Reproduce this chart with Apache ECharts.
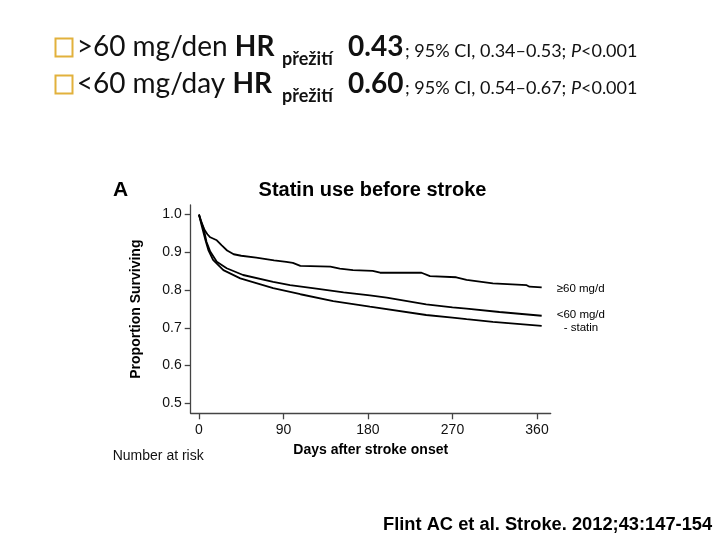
<!DOCTYPE html>
<html><head><meta charset="utf-8">
<script src="https://cdn.jsdelivr.net/npm/echarts@6/dist/echarts.min.js"></script>
<style>html,body{margin:0;padding:0;background:#fff}#c{width:720px;height:540px}</style>
</head><body><div id="c"></div>
<script>
// Kaplan-Meier curves (days after stroke onset, proportion surviving)
const daysHigh = [0,3,6,9,12,19,24,30,37,45,61,80,93,100,108,140,150,164,185,193,237,246,274,285,313,349,352,365];
const survHigh = [1.0,0.975,0.959,0.948,0.940,0.932,0.919,0.905,0.895,0.891,0.886,0.879,0.875,0.872,0.864,0.862,0.857,0.853,0.851,0.846,0.846,0.837,0.834,0.827,0.818,0.813,0.809,0.807];
const daysLow = [0,2,4.6,8,12,19,29.5,47,79,97,125,154,182,200,242,270,285,320,365];
const survLow = [1.0,0.985,0.968,0.928,0.902,0.875,0.858,0.840,0.822,0.813,0.804,0.794,0.786,0.780,0.762,0.754,0.751,0.742,0.732];
const daysNone = [0,3,6.4,10,15,26,44,79,108,143,182,242,270,285,313,365];
const survNone = [1.0,0.97,0.937,0.906,0.880,0.853,0.831,0.805,0.789,0.771,0.756,0.734,0.727,0.723,0.716,0.705];
const xTicks = [0,90,180,270,360];
const yTicks = [0.5,0.6,0.7,0.8,0.9,1.0];
const seriesNames = ['≥60 mg/d','<60 mg/d','- statin'];

const pairs = (d, v) => d.map((x, i) => [x, v[i]]);
const AR = '"Liberation Sans", Arial, sans-serif';
const HF = 'Lato, "Open Sans", sans-serif';

const chart = echarts.init(document.getElementById('c'), null, {renderer:'canvas'});
const lineStyle = {color:'#000', width:1.8};
chart.setOption({
  animation:false,
  backgroundColor:'#fff',
  grid:{left:190.7, right:169.3, top:205, bottom:126.7},
  xAxis:{
    type:'value', min:-8.8, max:374.6,
    name:'Days after stroke onset', nameLocation:'middle', nameGap:29.5,
    nameTextStyle:{fontFamily:AR, fontWeight:'bold', fontSize:14, color:'#000'},
    axisLine:{onZero:false, lineStyle:{color:'#444', width:1.3}},
    axisTick:{show:true, inside:false, length:6, customValues:xTicks, lineStyle:{color:'#444', width:1.3}},
    axisLabel:{customValues:xTicks, margin:9.5, fontFamily:AR, fontSize:14, color:'#111'},
    splitLine:{show:false}
  },
  yAxis:{
    type:'value', min:0.4735, max:1.0255,
    name:'Proportion Surviving', nameLocation:'middle', nameGap:48, nameRotate:90,
    nameTextStyle:{fontFamily:AR, fontWeight:'bold', fontSize:14, color:'#000'},
    axisLine:{show:true, onZero:false, lineStyle:{color:'#444', width:1.3}},
    axisTick:{show:true, inside:false, length:6, customValues:yTicks, lineStyle:{color:'#444', width:1.3}},
    axisLabel:{customValues:yTicks, margin:9, fontFamily:AR, fontSize:14, color:'#111',
      formatter:v=>v.toFixed(1)},
    splitLine:{show:false}
  },
  series:[
    {name:seriesNames[0], type:'line', data:pairs(daysHigh, survHigh), showSymbol:false, lineStyle,
      endLabel:{show:true, formatter:seriesNames[0], distance:15, offset:[0,1], fontFamily:AR, fontSize:11.5, color:'#000'}},
    {name:seriesNames[1], type:'line', data:pairs(daysLow, survLow), showSymbol:false, lineStyle,
      endLabel:{show:true, formatter:seriesNames[1], distance:15, offset:[0,-1], fontFamily:AR, fontSize:11.5, color:'#000'}},
    {name:seriesNames[2], type:'line', data:pairs(daysNone, survNone), showSymbol:false, lineStyle,
      endLabel:{show:true, formatter:seriesNames[2], distance:22, offset:[0,2], fontFamily:AR, fontSize:11.5, color:'#000'}}
  ],
  graphic:[
    // header bullets
    {type:'rect', shape:{x:55.5, y:38.5, width:17, height:18}, style:{fill:'none', stroke:'#E2B13C', lineWidth:2}},
    {type:'rect', shape:{x:55.5, y:75.5, width:17, height:18}, style:{fill:'none', stroke:'#E2B13C', lineWidth:2}},
    // line 1
    {type:'text', x:76.7, y:47, style:{text:'>60 mg/den {b|HR}', font:'28px '+HF, fill:'#111', verticalAlign:'middle',
      rich:{b:{fontFamily:HF, fontSize:28, fontWeight:'bold', fill:'#111'}}}},
    {type:'text', x:282, y:59, style:{text:'přežití', font:'bold 18px '+HF, fill:'#111', verticalAlign:'middle'}},
    {type:'text', x:348, y:47, style:{text:'0.43', font:'bold 28px '+HF, fill:'#111', verticalAlign:'middle'}},
    {type:'text', x:405, y:51, style:{text:'; 95% CI, 0.34–0.53; {i|P}<0.001', font:'18px '+HF, fill:'#111', verticalAlign:'middle',
      rich:{i:{fontFamily:HF, fontSize:18, fontStyle:'italic', fill:'#111'}}}},
    // line 2
    {type:'text', x:76.7, y:84, style:{text:'<60 mg/day {b|HR}', font:'28px '+HF, fill:'#111', verticalAlign:'middle',
      rich:{b:{fontFamily:HF, fontSize:28, fontWeight:'bold', fill:'#111'}}}},
    {type:'text', x:282, y:96, style:{text:'přežití', font:'bold 18px '+HF, fill:'#111', verticalAlign:'middle'}},
    {type:'text', x:348, y:84, style:{text:'0.60', font:'bold 28px '+HF, fill:'#111', verticalAlign:'middle'}},
    {type:'text', x:405, y:88, style:{text:'; 95% CI, 0.54–0.67; {i|P}<0.001', font:'18px '+HF, fill:'#111', verticalAlign:'middle',
      rich:{i:{fontFamily:HF, fontSize:18, fontStyle:'italic', fill:'#111'}}}},
    // panel letter and title
    {type:'text', x:113, y:190, style:{text:'A', font:'bold 21px '+AR, fill:'#000', verticalAlign:'middle'}},
    {type:'text', x:372.5, y:190, style:{text:'Statin use before stroke', font:'bold 20px '+AR, fill:'#000', align:'center', verticalAlign:'middle'}},
    {type:'text', x:112.7, y:456, style:{text:'Number at risk', font:'14px '+AR, fill:'#111', verticalAlign:'middle'}},
    {type:'text', x:383, y:525, style:{text:'Flint AC et al. Stroke. 2012;43:147-154', font:'bold 18.3px '+AR, fill:'#000', verticalAlign:'middle'}}
  ]
});
</script></body></html>
